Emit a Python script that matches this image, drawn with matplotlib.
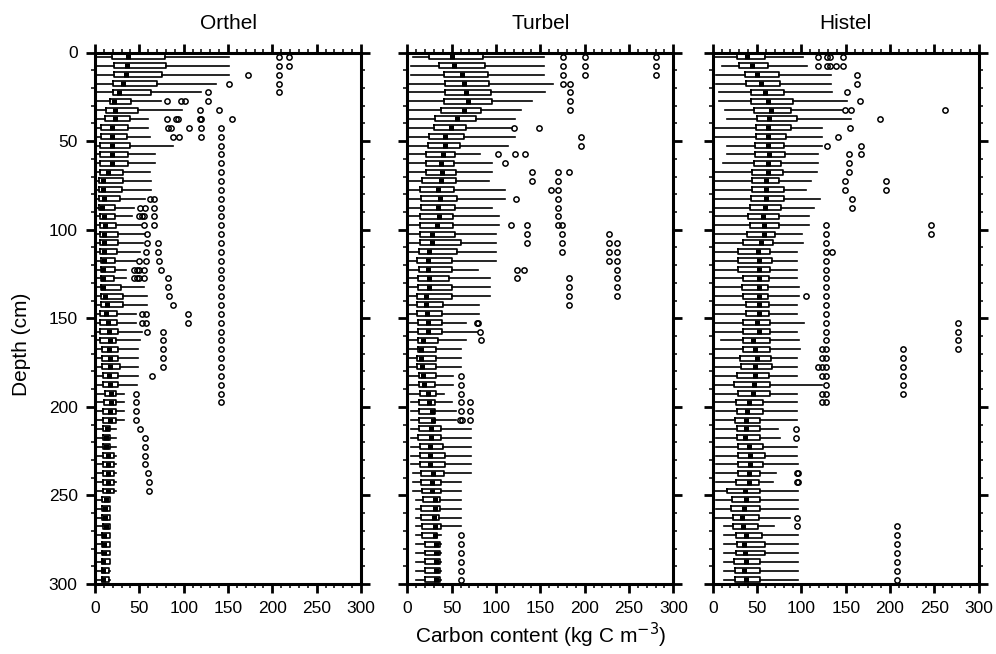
import numpy as np
import matplotlib
matplotlib.use("Agg")
import matplotlib.pyplot as plt
from matplotlib.ticker import MultipleLocator

plt.rcParams['font.family'] = ['Liberation Sans', 'DejaVu Sans']

# depth bin centres (5 cm layers, 0-300 cm)
depth_mid = np.arange(2.5, 300, 5)

panel_names = ["Orthel", "Turbel", "Histel"]

# ---- Orthel ----
orthel_lo = [0]*42 + [2]*18
orthel_q1 = [19.5, 21.8, 21.8, 20.7, 20.3, 17.3, 12.8, 11.3, 6.4, 6.4,
             5.6, 5.6, 5.6, 5.3, 4.9, 4.9, 4.9, 4.5, 6.0, 6.0,
             6.0, 5.6, 5.6, 6.4, 6.4, 6.4, 6.4, 6.8, 7.1, 6.0,
             6.0, 6.0, 6.0, 8.3, 8.3, 8.3, 9.0, 9.0, 10.9, 9.8,
             9.0, 9.0, 9.0, 9.0, 9.0, 9.0, 9.0, 9.0, 9.0, 9.0,
             8.3, 8.3, 8.3, 9.0, 7.5, 7.5, 7.5, 7.5, 7.5, 7.5]
orthel_med = [36.8, 36.0, 35.3, 32.0, 26.7, 21.4, 22.0, 22.0, 19.5, 19.5,
              19.5, 18.8, 18.8, 14.3, 9.4, 9.4, 9.8, 7.5, 9.8, 11.7,
              10.5, 10.5, 10.5, 9.8, 9.0, 9.0, 9.0, 11.3, 13.5, 12.0,
              14.7, 15.8, 16.5, 15.8, 16.9, 17.3, 15.8, 17.3, 17.7, 17.7,
              17.3, 17.3, 13.5, 12.8, 12.8, 15.0, 15.0, 15.0, 15.0, 15.0,
              12.0, 11.7, 11.7, 12.0, 9.8, 9.8, 9.8, 9.0, 9.0, 9.0]
orthel_q3 = [79.0, 80.0, 75.6, 70.3, 62.8, 41.0, 48.0, 39.5, 37.2, 36.5,
             39.5, 37.6, 37.6, 31.6, 31.6, 30.8, 27.8, 22.6, 22.6, 23.3,
             26.3, 26.3, 24.4, 23.0, 22.0, 21.4, 29.7, 31.6, 31.6, 25.2,
             25.2, 26.3, 24.0, 26.3, 26.3, 27.8, 26.3, 26.3, 24.0, 24.0,
             24.0, 24.0, 17.3, 17.3, 17.3, 21.0, 21.0, 21.0, 21.0, 21.0,
             16.5, 16.5, 16.5, 16.5, 16.5, 16.5, 16.5, 16.5, 15.8, 15.8]
orthel_hi = [151, 151, 151.5, 136.5, 119, 74, 98.5, 60, 60, 61.7,
             88, 67.7, 67.7, 62.4, 62.8, 62.8, 56, 44, 41.4, 52.3,
             56, 54, 50.4, 46.6, 34.6, 34.6, 55.6, 58.6, 58.6, 46,
             46, 53.4, 51, 48.5, 48.5, 48.5, 48.5, 47.7, 32.3, 32.3,
             32.3, 32.3, 23.3, 23.3, 23.3, 24, 24, 24, 24, 24,
             17.3, 17.3, 17.3, 17.3, 17.3, 17.3, 17.3, 17.3, 16.5, 16.5]
orthel_out = [[207, 219], [207, 219], [173, 207], [151, 207], [127, 207],
              [81, 97, 102, 127], [118, 139.5], [81, 91, 93.6, 118, 120, 155],
              [82.7, 85.7, 105.6, 120, 142.5], [87.6, 94.7, 120, 142.5],
              [142.5], [142.5], [142.5], [142.5], [142.5], [142.5],
              [62, 66.5, 142.5], [50.4, 56, 66.5, 142.5],
              [49.6, 52.6, 55.3, 66.5, 142.5], [55.3, 66.5, 142.5],
              [58.3, 142.5], [58.3, 71, 142.5], [58, 71, 142.5],
              [49.6, 58, 71.8, 142.5], [44.4, 47, 50, 55, 74, 142.5],
              [44.4, 47, 50, 55, 82.7, 142.5], [82.7, 142.5], [83.5, 142.5],
              [88, 142.5], [53.4, 58, 105, 142.5], [53.4, 58, 105, 142.5],
              [58.3, 76.7, 142.5], [76.7, 142.5], [76.7, 142.5], [76.7, 142.5],
              [76.7, 142.5], [64.3, 142.5], [142.5], [45.9, 142.5], [45.9, 142.5],
              [45.9], [45.9], [51.1], [56.8], [56.8], [56.8], [56.8], [59.8],
              [60.5], [60.5], [], [], [], [], [], [], [], [], [], []]

# ---- Turbel ----
turbel_lo = [6, 4.5, 4.5] + [2.3]*36 + [4]*8 + [6]*3 + [9.8]*10
turbel_q1 = [24.8, 35.7, 41.0, 42.9, 42.0, 41.4, 37.6, 30.8, 30.5, 24.8,
             23.0, 21.4, 20.7, 20.7, 16.5, 14.3, 15.4, 15.0, 14.7, 13.9,
             14.3, 14.3, 13.5, 11.3, 12.8, 12.4, 11.7, 11.3, 11.3, 11.3,
             12.4, 12.4, 11.7, 11.7, 11.3, 11.3, 13.2, 13.2, 13.9, 13.2,
             13.2, 13.2, 13.2, 12.4, 14.3, 14.7, 14.7, 15.0, 15.0, 16.9,
             17.3, 15.8, 15.8, 16.9, 16.9, 20.3, 20.3, 20.3, 20.3, 20.3]
turbel_med = [50.0, 52.6, 61.7, 64.3, 66.0, 68.8, 64.3, 56.0, 49.2, 42.9,
              42.0, 39.8, 38.3, 39.0, 38.3, 34.2, 36.5, 34.2, 35.3, 33.8,
              27.8, 28.2, 24.0, 23.3, 23.3, 24.0, 24.0, 21.0, 21.0, 21.8,
              22.9, 23.3, 17.3, 15.8, 15.8, 16.5, 18.0, 19.2, 22.9, 24.4,
              27.4, 29.3, 27.0, 27.0, 25.6, 25.6, 26.0, 28.9, 27.4, 28.2,
              31.6, 30.8, 30.5, 30.8, 30.8, 32.3, 32.3, 32.3, 32.3, 32.3]
turbel_q3 = [85.0, 87.2, 91.0, 92.0, 94.0, 95.9, 83.0, 77.8, 65.8, 64.3,
             59.8, 53.4, 53.0, 55.3, 55.3, 53.0, 55.6, 54.0, 51.0, 51.0,
             54.0, 60.0, 55.6, 50.8, 50.0, 46.6, 50.0, 50.8, 40.6, 39.5,
             39.0, 39.5, 34.2, 32.3, 32.3, 32.3, 32.0, 31.6, 32.0, 31.6,
             31.6, 31.6, 37.6, 37.6, 40.6, 42.9, 42.9, 41.7, 37.6, 37.6,
             37.2, 37.2, 35.7, 37.6, 33.8, 36.5, 36.5, 36.5, 36.5, 36.5]
turbel_hi = [154, 154, 154, 164, 155, 141, 128, 121, 118, 121,
             114, 82.3, 95, 95, 92.5, 110, 110, 96, 103.8, 103,
             99.6, 99.6, 99.6, 99.6, 79.7, 93.2, 93.2, 93.2, 80.8, 80.8,
             65.8, 79, 66, 60.9, 60.9, 60.9, 52, 52, 41.4, 50.8,
             54.5, 54.5, 71.4, 71.4, 71.4, 71.4, 71.4, 71.4, 60.9, 60.9,
             60.9, 60.9, 60.9, 60.9, 37.6, 38.3, 38.3, 38.3, 38.3, 38.3]
turbel_out = [[176, 200, 280], [176, 200, 280], [176, 200, 280], [176, 183.5],
              [183.5], [183.5], [183.5], [], [120, 149], [195.5], [195.5],
              [102, 121.8, 132.7], [110], [141, 170, 182], [141, 170],
              [161.7, 170], [122.6, 170], [170], [170], [117, 134.6, 170, 175],
              [134.6, 175, 227.4], [134.6, 175, 227.4, 236], [175, 227.4, 236],
              [227.4, 236], [123.3, 132, 236], [123.3, 182, 236], [182, 236],
              [182, 236], [182], [], [79, 79.8], [82], [83], [], [], [],
              [60], [60], [60.5], [60, 70.7], [60, 70.7], [59.4, 62, 70.7],
              [], [], [], [], [], [], [], [], [], [], [], [],
              [60], [60], [60], [60], [60], [60]]

# ---- Histel ----
histel_lo = [3, 10, 3.8, 3.8, 6.8, 6.8, 13.5, 15.8, 0.8, 0.8,
             15.8, 15.8, 11.3, 0.8, 0.8, 0.8, 0.8, 0.8, 0.8, 0.8,
             0.8, 0.8, 0.8, 0.8, 0.8, 0.8, 0.8, 0.8, 0.8, 0.8,
             0.8, 0.8, 9, 0.8, 0.8, 0.8, 0.8, 0.8, 0.8, 0.8,
             3.8, 3.8, 3.8, 3.8, 3.8, 3.8, 3.8, 3.8, 3.8, 0.8,
             3.8, 3.8, 0.8, 12.8, 12.8, 12.8, 12.8, 12.8, 12.8, 12.8]
histel_q1 = [27.8, 30.0, 36.0, 38.0, 43.6, 43.2, 47.0, 50.0, 48.5, 49.2,
             48.0, 47.4, 46.6, 44.7, 44.4, 44.0, 42.9, 42.0, 40.2, 41.7,
             39.0, 33.8, 28.6, 28.6, 29.0, 34.6, 32.7, 34.2, 37.2, 38.0,
             33.8, 33.8, 34.2, 34.2, 30.5, 32.0, 27.0, 24.4, 28.6, 26.7,
             27.4, 25.6, 27.8, 27.8, 28.2, 28.2, 29.0, 29.0, 26.0, 15.8,
             21.4, 20.3, 23.0, 23.0, 26.3, 27.4, 26.0, 24.4, 25.2, 24.8]
histel_med = [38.3, 44.0, 50.0, 54.5, 59.0, 62.0, 65.4, 64.0, 62.0, 62.4,
              62.8, 63.0, 62.8, 62.4, 60.0, 60.0, 60.0, 58.6, 57.0, 57.5,
              58.3, 55.0, 51.5, 52.0, 52.0, 52.6, 52.0, 52.0, 52.0, 52.0,
              50.0, 52.0, 45.9, 47.7, 49.6, 48.1, 48.1, 46.6, 45.9, 41.4,
              38.3, 37.6, 37.6, 36.5, 41.0, 41.7, 42.0, 41.4, 40.6, 36.8,
              37.6, 35.0, 33.0, 34.6, 38.0, 35.3, 36.8, 37.6, 35.7, 37.6]
histel_q3 = [59.4, 62.8, 74.4, 76.3, 80.8, 91.0, 88.0, 95.5, 88.7, 82.3,
             80.8, 81.6, 77.4, 79.3, 75.2, 80.8, 80.0, 76.7, 74.8, 74.8,
             70.7, 67.7, 65.0, 67.3, 65.0, 63.2, 62.4, 62.4, 64.0, 64.0,
             65.0, 64.7, 64.7, 64.7, 65.4, 66.5, 63.2, 64.3, 64.7, 57.0,
             56.8, 53.4, 53.0, 53.4, 56.4, 59.4, 56.4, 53.4, 52.6, 53.4,
             53.8, 53.4, 52.3, 50.8, 55.6, 59.0, 59.4, 53.4, 53.8, 53.4]
histel_hi = [101.5, 106, 133, 133.5, 134, 152, 145.5, 155.6, 123, 123,
             123, 119, 119, 118, 111, 105, 120.7, 114, 108.6, 108.6,
             100.8, 101.5, 95, 95, 95, 95, 97, 97, 95.5, 94.7,
             103.4, 94.7, 97.4, 99, 94.7, 94.7, 94.7, 123.3, 94.7, 94.7,
             94.7, 94.7, 74, 76, 94.7, 94.7, 95.9, 71, 68.4, 96.2,
             96.2, 96.2, 87, 68.8, 96.2, 96.2, 96.2, 96.2, 96.2, 96.2]
histel_out = [[118.4, 129, 132, 147.4], [118.4, 129, 132, 139, 147.4], [162.4],
              [162.4], [151.5], [165.8], [149.6, 155.6, 262.4], [189], [155],
              [141.7], [129.3, 167], [153.4, 167], [153.4], [153.4], [149, 196],
              [149, 196], [157.5], [157.5], [], [127.8, 246.6], [127.8, 246.6],
              [127.8], [127.8, 134.6], [127.8], [127.8], [127.8], [127.8],
              [105.3, 127.8], [127.8], [127.8], [127.8, 277], [127.8, 277],
              [127.8, 277], [123, 127.8, 214.7, 277], [123, 127.8, 214.7],
              [119, 123, 127.8, 214.7], [123, 127.8, 214.7], [127.8, 214.7],
              [123, 127.8, 214.7], [123, 127.8], [], [], [94], [94], [], [], [],
              [95, 96], [95, 96], [], [], [], [95.5], [95.5, 207.5], [207.5],
              [207.5], [207.5], [207.5], [207.5], [207.5]]

panels = [
    (orthel_lo, orthel_q1, orthel_med, orthel_q3, orthel_hi, orthel_out),
    (turbel_lo, turbel_q1, turbel_med, turbel_q3, turbel_hi, turbel_out),
    (histel_lo, histel_q1, histel_med, histel_q3, histel_hi, histel_out),
]

fig = plt.figure(figsize=(9.96, 6.54), dpi=100)
lefts = [95/996, 407.3/996, 712.7/996]
w = 266/996
b = 1 - 584/654
h = (584 - 52.5)/654

for i, (name, (lo, q1, med, q3, hi, out)) in enumerate(zip(panel_names, panels)):
    ax = fig.add_axes([lefts[i], b, w, h])
    stats = []
    for k in range(len(depth_mid)):
        stats.append(dict(whislo=lo[k], q1=q1[k], med=med[k], q3=q3[k],
                          whishi=hi[k], fliers=np.array(out[k])))
    ax.bxp(stats, positions=depth_mid, widths=2.8, orientation='horizontal',
           showcaps=False, showfliers=True, manage_ticks=False,
           boxprops=dict(color='black', linewidth=1.2),
           whiskerprops=dict(color='black', linewidth=1.2),
           medianprops=dict(color='black', linewidth=3.6, solid_capstyle='butt'),
           flierprops=dict(marker='o', markersize=3.8, markerfacecolor='none',
                           markeredgecolor='black', markeredgewidth=1.1))
    ax.set_xlim(0, 300)
    ax.set_ylim(300, 0)
    ax.xaxis.set_major_locator(MultipleLocator(50))
    ax.xaxis.set_minor_locator(MultipleLocator(10))
    ax.yaxis.set_major_locator(MultipleLocator(50))
    ax.yaxis.set_minor_locator(MultipleLocator(10))
    ax.tick_params(which='both', direction='out', top=True, right=True,
                   labeltop=False, labelright=False, labelsize=12.5)
    ax.tick_params(which='major', length=6.5, width=2.0, pad=6)
    ax.tick_params(which='minor', length=3, width=1.1)
    if i > 0:
        ax.tick_params(labelleft=False)
    for sp in ax.spines.values():
        sp.set_linewidth(2.2)
    ax.set_title(name, fontsize=15, pad=17)

fig.text(lefts[1] + w/2, 0.028, "Carbon content (kg C m$^{-3}$)",
         ha='center', va='center', fontsize=15)
fig.text(0.022, 0.474, "Depth (cm)", rotation=90, ha='center', va='center',
         fontsize=15)

fig.savefig("out.png", dpi=100)
